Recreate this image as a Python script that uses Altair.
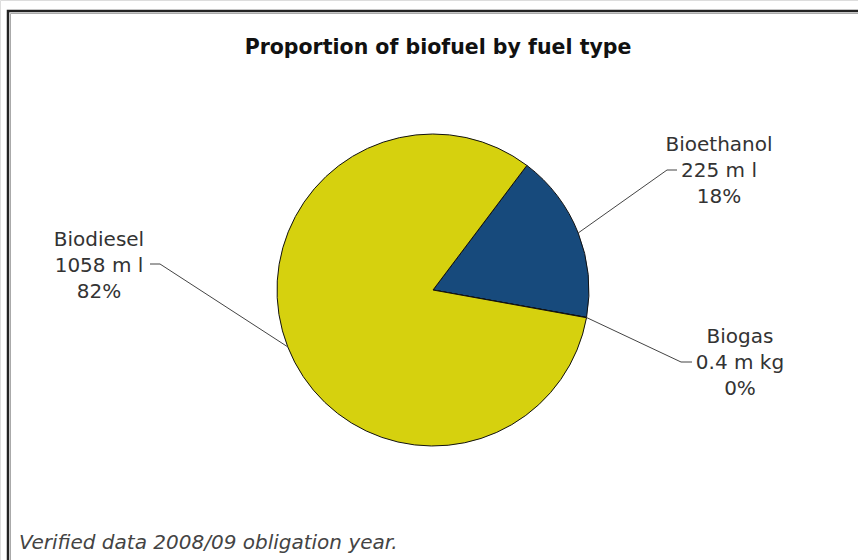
import math
import altair as alt
import pandas as pd

# Biofuel supplied, by fuel type
fuels = ["Bioethanol", "Biogas", "Biodiesel"]
amounts = [225, 0.4, 1058]
units = ["m l", "m kg", "m l"]
colors = ["#174a7c", "#d6d10e", "#d6d10e"]

title_text = "Proportion of biofuel by fuel type"
footnote = "Verified data 2008/09 obligation year."

# Layout (pixels)
W, H = 858, 560
CX, CY, R = 433, 290, 156
START = math.radians(37)          # first slice starts here, clockwise from 12 o'clock
label_pos = {"Bioethanol": (719, 145), "Biogas": (740, 337), "Biodiesel": (99, 240)}
elbow = {"Bioethanol": (667, 170), "Biogas": (681, 362), "Biodiesel": (160, 264)}
tip = {"Bioethanol": (677, 170), "Biogas": (692, 362), "Biodiesel": (150, 264)}
LINE_H = 26

total = sum(amounts)
pie = pd.DataFrame({"fuel": fuels, "amount": amounts, "order": range(len(fuels))})

# Leader lines start at the middle of each slice's outer edge
rows, cum = [], 0.0
for f, v in zip(fuels, amounts):
    a = START + 2 * math.pi * (cum + v / 2) / total
    cum += v
    ex, ey = CX + R * math.sin(a), CY - R * math.cos(a)
    for i, (px, py) in enumerate([(ex, ey), elbow[f], tip[f]]):
        rows.append({"fuel": f, "i": i, "px": px, "py": py})
leaders = pd.DataFrame(rows)

lab_rows = []
for f, v, u in zip(fuels, amounts, units):
    x0, y0 = label_pos[f]
    for i, t in enumerate([f, f"{v:g} {u}", f"{round(100 * v / total)}%"]):
        lab_rows.append({"px": x0, "py": y0 + i * LINE_H, "t": t})
labels = pd.DataFrame(lab_rows)

frame = alt.Chart(pd.DataFrame({"k": [0]})).mark_rect(
    filled=False, stroke="#222", strokeWidth=2.5
).encode(x=alt.value(8), y=alt.value(11), x2=alt.value(W + 20), y2=alt.value(H + 20))
frame_shadow = alt.Chart(pd.DataFrame({"k": [0]})).mark_rect(
    filled=False, stroke="#aaa", strokeWidth=1
).encode(x=alt.value(10.5), y=alt.value(13.5), x2=alt.value(W + 20), y2=alt.value(H + 20))

arcs = alt.Chart(pie).mark_arc(radius=R, stroke="#111", strokeWidth=1).encode(
    theta=alt.Theta("amount:Q", stack=True,
                    scale=alt.Scale(range=[START, START + 2 * math.pi])),
    color=alt.Color("fuel:N", scale=alt.Scale(domain=fuels, range=colors), legend=None),
    order=alt.Order("order:Q"),
    x=alt.value(CX),
    y=alt.value(CY),
)

lines = alt.Chart(leaders).mark_line(color="#444", strokeWidth=1).encode(
    x=alt.X("px:Q", scale=None),
    y=alt.Y("py:Q", scale=None),
    detail="fuel:N",
    order="i:Q",
)

texts = alt.Chart(labels).mark_text(
    font="DejaVu Sans", fontSize=20, color="#333", align="center", baseline="middle"
).encode(x=alt.X("px:Q", scale=None), y=alt.Y("py:Q", scale=None), text="t:N")

title = alt.Chart(pd.DataFrame({"t": [title_text]})).mark_text(
    font="DejaVu Sans", fontSize=20.5, fontWeight="bold", color="#111",
    align="center", baseline="middle"
).encode(x=alt.value(438), y=alt.value(48), text="t:N")

note = alt.Chart(pd.DataFrame({"t": [footnote]})).mark_text(
    font="DejaVu Sans", fontSize=20, fontStyle="italic", color="#444",
    align="left", baseline="middle"
).encode(x=alt.value(19), y=alt.value(543), text="t:N")

chart = alt.layer(frame, frame_shadow, arcs, lines, texts, title, note).properties(
    width=W, height=H, padding=0, autosize=alt.AutoSizeParams(type="none"),
).configure_view(stroke=None).configure(background="white")

chart.save("out.html", embed_options={"renderer": "svg", "actions": False})
